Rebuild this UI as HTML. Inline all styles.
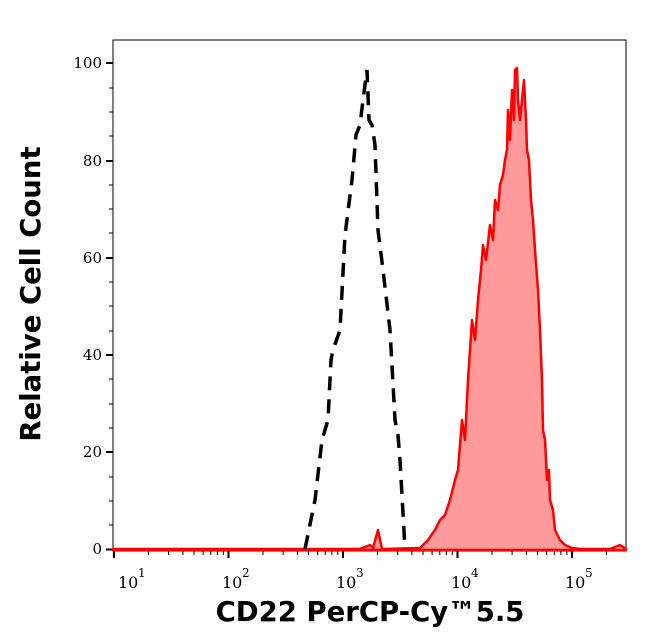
<!DOCTYPE html>
<html><head><style>body{margin:0;background:#fff}svg{display:block}</style></head><body>
<svg width="646" height="641" xmlns="http://www.w3.org/2000/svg">
<rect x="113" y="40" width="513" height="511" fill="#fff" stroke="#000" stroke-width="1"/>
<g stroke="#000" stroke-width="2">
<line x1="106" y1="549.5" x2="113" y2="549.5"/><line x1="106" y1="452" x2="113" y2="452"/><line x1="106" y1="355" x2="113" y2="355"/><line x1="106" y1="258" x2="113" y2="258"/><line x1="106" y1="161" x2="113" y2="161"/><line x1="106" y1="63" x2="113" y2="63"/>
</g>
<g stroke="#000" stroke-width="1">
<line x1="109" y1="525" x2="113" y2="525"/><line x1="109" y1="501" x2="113" y2="501"/><line x1="109" y1="477" x2="113" y2="477"/>
<line x1="109" y1="428" x2="113" y2="428"/><line x1="109" y1="404" x2="113" y2="404"/><line x1="109" y1="379" x2="113" y2="379"/>
<line x1="109" y1="331" x2="113" y2="331"/><line x1="109" y1="306" x2="113" y2="306"/><line x1="109" y1="282" x2="113" y2="282"/>
<line x1="109" y1="233" x2="113" y2="233"/><line x1="109" y1="209" x2="113" y2="209"/><line x1="109" y1="185" x2="113" y2="185"/>
<line x1="109" y1="136" x2="113" y2="136"/><line x1="109" y1="112" x2="113" y2="112"/><line x1="109" y1="88" x2="113" y2="88"/>
</g>
<g font-family="DejaVu Serif, serif" font-size="15" text-anchor="end">
<text x="102" y="554">0</text><text x="102" y="457">20</text><text x="102" y="360">40</text><text x="102" y="263">60</text><text x="102" y="166">80</text><text x="102" y="68">100</text>
</g>
<g stroke="#000" stroke-width="1">
<path d="M148.5,551v4M168.6,551v4M182.9,551v4M194,551v4M203.1,551v4M210.8,551v4M217.4,551v4M223.3,551v4
M263,551v4M283.1,551v4M297.4,551v4M308.5,551v4M317.6,551v4M325.3,551v4M331.9,551v4M337.8,551v4
M377.5,551v4M397.6,551v4M411.9,551v4M423,551v4M432.1,551v4M439.8,551v4M446.4,551v4M452.3,551v4
M492,551v4M512.1,551v4M526.4,551v4M537.5,551v4M546.6,551v4M554.3,551v4M560.9,551v4M566.8,551v4
M606.5,551v4"/>
</g>
<g stroke="#000" stroke-width="2">
<path d="M114,551v7M228.5,551v7M343,551v7M457.5,551v7M572,551v7"/>
</g>
<g font-family="DejaVu Serif, serif" font-size="16">
<text x="118" y="588">10</text><text x="138" y="577" font-size="12">1</text>
<text x="222" y="588">10</text><text x="242" y="577" font-size="12">2</text>
<text x="336" y="588">10</text><text x="356" y="577" font-size="12">3</text>
<text x="451" y="588">10</text><text x="471" y="577" font-size="12">4</text>
<text x="565" y="588">10</text><text x="585" y="577" font-size="12">5</text>
</g>
<path d="M113,549 L360,549 L370,545 L373,548 L378,530 L382,549 L420,548 L428,540 L435,530 L440,520 L445,515 L450,500 L455,480 L458,470 L462,420 L465,440 L468,380 L472,320 L475,340 L478,300 L481,270 L483,245 L486,260 L490,225 L493,240 L495,200 L498,210 L500,185 L503,175 L505,160 L507,150 L508,110 L510,140 L512,90 L514,120 L515,70 L517,68 L518,100 L520,120 L521,110 L523,90 L524,80 L526,120 L527,150 L529,160 L531,200 L533,220 L535,250 L538,290 L540,330 L542,380 L543,430 L545,440 L547,480 L549,470 L550,500 L553,510 L555,530 L560,540 L565,545 L572,548 L580,549 L610,549 L620,545 L626,549 L626,550 L113,550 Z" fill="#ff9a9a" stroke="#ff0000" stroke-width="2.5" stroke-linejoin="round"/>
<path d="M305,549 L315,500 L322,440 L328,420 L331,360 L333,350 L340,330 L345,235 L352,180 L356,135 L360,125 L363,100 L367,70 L369,120 L372,125 L375,145 L378,230 L383,270 L390,330 L395,420 L398,435 L400,460 L405,549" fill="none" stroke="#000" stroke-width="3.5" stroke-dasharray="14,9"/>
<text x="40" y="294" font-family="DejaVu Sans, sans-serif" font-weight="bold" font-size="27.5" text-anchor="middle" transform="rotate(-90 40 294)">Relative Cell Count</text>
<text x="370" y="621" font-family="DejaVu Sans, sans-serif" font-weight="bold" font-size="27.5" text-anchor="middle">CD22 PerCP-Cy™5.5</text>
</svg>
</body></html>
